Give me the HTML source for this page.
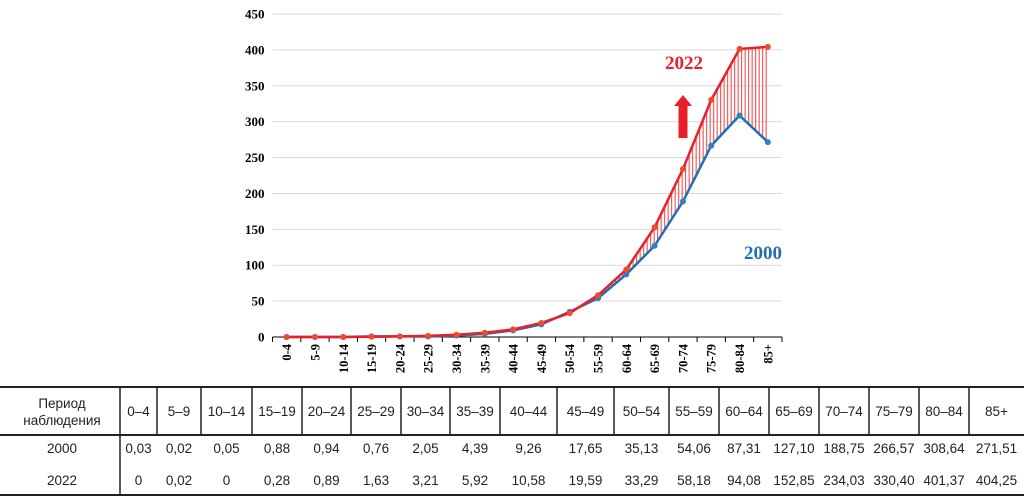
<!DOCTYPE html>
<html><head><meta charset="utf-8"><style>
body{margin:0;background:#fff;width:1024px;height:501px;overflow:hidden;position:relative;font-family:"Liberation Sans",sans-serif}
svg{position:absolute;left:0;top:0}
</style></head><body>
<svg id="chart" width="1024" height="501" xmlns="http://www.w3.org/2000/svg"></svg>
<script>
const categories=["0-4","5-9","10-14","15-19","20-24","25-29","30-34","35-39","40-44","45-49","50-54","55-59","60-64","65-69","70-74","75-79","80-84","85+"];
const tableCats=["0–4","5–9","10–14","15–19","20–24","25–29","30–34","35–39","40–44","45–49","50–54","55–59","60–64","65–69","70–74","75–79","80–84","85+"];
const values2000=[0.03,0.02,0.05,0.88,0.94,0.76,2.05,4.39,9.26,17.65,35.13,54.06,87.31,127.10,188.75,266.57,308.64,271.51];
const values2022=[0,0.02,0,0.28,0.89,1.63,3.21,5.92,10.58,19.59,33.29,58.18,94.08,152.85,234.03,330.40,401.37,404.25];
const yTicks=[0,50,100,150,200,250,300,350,400,450];
const NS="http://www.w3.org/2000/svg";
const svg=document.getElementById('chart');
function mk(t,a,p){const e=document.createElementNS(NS,t);for(const k in a)e.setAttribute(k,a[k]);(p||svg).appendChild(e);return e;}
const x0=272.5,x1=782,y0=337,yTop=14,ymax=450;
const step=(x1-x0)/categories.length;
const xs=i=>x0+step*(i+0.5);
const ys=v=>y0-(v/ymax)*(y0-yTop);
yTicks.forEach(t=>{
 if(t>0){const g=mk('line',{x1:x0,x2:x1,y1:ys(t),y2:ys(t),stroke:'#d9d9d9','stroke-width':1});
 
 }
 const l=mk('text',{x:x0-8,y:ys(t)+4.5,'text-anchor':'end','font-family':'Liberation Serif, serif','font-weight':'bold','font-size':13});
 l.textContent=t;
 
 
});
const ax=mk('line',{x1:x0,x2:x1,y1:y0,y2:y0,stroke:'#000','stroke-width':1});


for(let i=0;i<=categories.length;i++){const tk=mk('line',{x1:x0+step*i,x2:x0+step*i,y1:y0,y2:y0+5,stroke:'#000'});
 
 }
categories.forEach((c,i)=>{
 const t=mk('text',{transform:`translate(${xs(i)+4.5},${y0+7}) rotate(-90)`,'text-anchor':'end','font-family':'Liberation Serif, serif','font-weight':'bold','font-size':12.5});
 t.textContent=c;
 
 
});
const hg=mk('g',{stroke:'#f05050','stroke-width':1.1});


for(let x=xs(0);x<=xs(categories.length-1);x+=3.5){
 const f=(x-xs(0))/step;let i=Math.min(Math.floor(f),categories.length-2);const r=f-i;
 const a=values2000[i]+(values2000[i+1]-values2000[i])*r;
 const b=values2022[i]+(values2022[i+1]-values2022[i])*r;
 if(b-a>2)mk('line',{x1:x,x2:x,y1:ys(a),y2:ys(b)},hg);
}
function series(vals,col,pcol,name){
 const p=mk('polyline',{points:vals.map((v,i)=>xs(i)+','+ys(v)).join(' '),fill:'none',stroke:col,'stroke-width':2.5});
 
 
 vals.forEach((v,i)=>{const c=mk('circle',{cx:xs(i),cy:ys(v),r:3,fill:pcol});
 
 });
}
series(values2000,'#1f6fb5','#2f80c8','series-2000');
series(values2022,'#e8202a','#f04a2a','series-2022');
const l1=mk('text',{x:684,y:69,'text-anchor':'middle','font-family':'Liberation Serif, serif','font-weight':'bold','font-size':19,fill:'#e8202a'});
l1.textContent='2022';


const l2=mk('text',{x:763,y:259,'text-anchor':'middle','font-family':'Liberation Serif, serif','font-weight':'bold','font-size':19,fill:'#1f6fb5'});
l2.textContent='2000';


const ar=mk('polygon',{points:'683,95 692,106 687.5,106 687.5,138 678.5,138 678.5,106 674,106',fill:'#e8202a'});


const bounds=[120,157,201,252,302,351,401,450,500,557,614,669,719,769,819,869,919,969,1024];
const tT=387,tH=435,tB=495;
const tg=mk('g',{});


mk('line',{x1:0,x2:1024,y1:tT,y2:tT,stroke:'#222','stroke-width':2},tg);
mk('line',{x1:0,x2:1024,y1:tH,y2:tH,stroke:'#222','stroke-width':2},tg);
mk('line',{x1:0,x2:1024,y1:tB,y2:tB,stroke:'#222','stroke-width':2},tg);
mk('line',{x1:120,x2:120,y1:tT,y2:tB,stroke:'#222','stroke-width':1.5},tg);
bounds.slice(1,-1).forEach(b=>mk('line',{x1:b,x2:b,y1:tT,y2:tH,stroke:'#222','stroke-width':1.5},tg));
function tx(x,y,s,name){const t=mk('text',{x:x,y:y,'text-anchor':'middle','font-size':13.5,fill:'#222'},tg);t.textContent=s;
 
 }
tx(62,408,'Период','table-header-label');tx(62,425,'наблюдения','table-header-label');
tx(62,453,'2000','row-label-2000');tx(62,485,'2022','row-label-2022');
const fmt=v=>v===0?'0':v.toFixed(2).replace('.',',');
tableCats.forEach((c,i)=>{const cx=(bounds[i]+bounds[i+1])/2;
 tx(cx,416,c,'table-column-header');
 tx(cx,453,fmt(values2000[i]),'table-cell-2000');
 tx(cx,485,fmt(values2022[i]),'table-cell-2022');
});
</script>
</body></html>
